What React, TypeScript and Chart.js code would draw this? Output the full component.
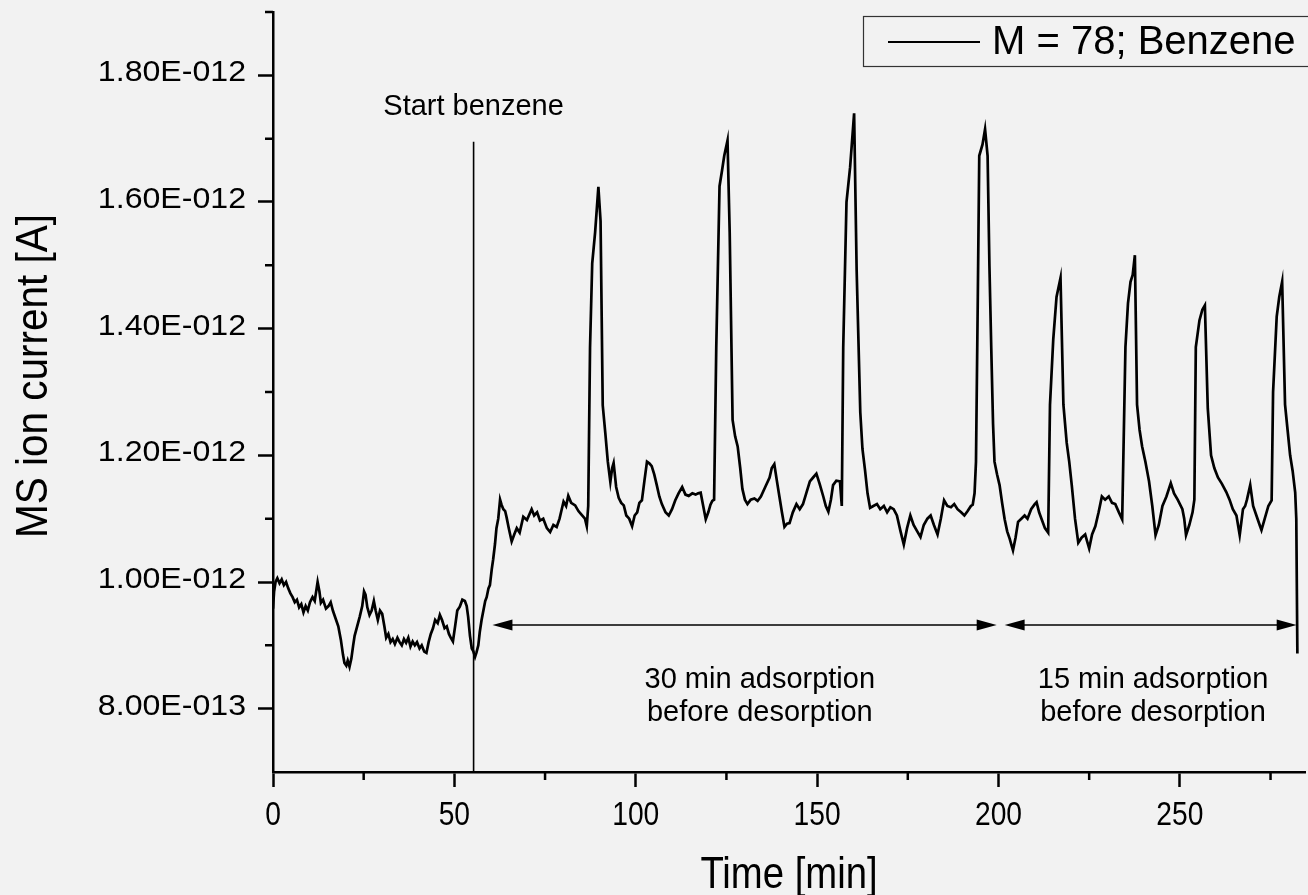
import React, { useEffect, useRef } from "react";
import { Chart, registerables } from "chart.js";

Chart.register(...registerables);

// ---- data (time in minutes, MS ion current in pA = 1E-012 A) ----
const timeMin = [
  0, 0.3, 0.7, 1.2, 1.8, 2.4, 3.0, 3.6, 4.2, 4.8,
  5.4, 6.0, 6.6, 7.2, 7.8, 8.4, 9.0, 9.6, 10.2, 10.9,
  11.5, 12.3, 12.8, 13.2, 13.8, 14.6, 15.3, 15.9, 16.5, 17.4,
  18.0, 18.7, 19.3, 19.7, 20.2, 20.6, 21.1, 21.6, 22.1, 22.5,
  23.2, 23.9, 24.6, 25.1, 25.5, 26.0, 26.6, 27.2, 27.8, 28.3,
  28.9, 29.5, 30.1, 30.7, 31.2, 31.8, 32.4, 33.0, 33.6, 34.3,
  34.9, 35.5, 36.1, 36.7, 37.3, 37.9, 38.5, 39.1, 39.7, 40.4,
  41.0, 41.7, 42.3, 42.9, 43.5, 44.1, 44.7, 45.4, 46.0, 46.6,
  47.3, 47.9, 48.5, 49.0, 49.6, 50.2, 50.8, 51.5, 52.2, 52.9,
  53.4, 53.8, 54.3, 54.8, 55.2, 55.7, 56.1, 56.6, 57.0, 57.5,
  58.0, 58.5, 58.9, 59.4, 59.8, 60.3, 60.7, 61.2, 61.6, 62.1,
  62.6, 63.0, 63.5, 64.0, 64.4, 65.0, 65.8, 66.5, 67.2, 68.0,
  69.0, 70.0, 71.3, 72.0, 72.8, 73.6, 74.5, 75.5, 76.4, 77.3,
  78.2, 79.0, 80.1, 80.8, 81.4, 82.2, 83.3, 84.2, 85.1, 86.0,
  86.5, 86.9, 87.4, 88.0, 88.8, 89.7, 90.3, 90.9, 91.6, 92.3,
  93.0, 93.5, 93.9, 94.6, 95.3, 96.0, 96.7, 97.4, 98.2, 99.0,
  99.7, 100.4, 101.0, 101.7, 102.4, 103.1, 103.8, 104.4, 105.1, 105.8,
  106.5, 107.2, 108.2, 109.1, 110.0, 110.9, 111.8, 112.8, 113.7, 114.6,
  115.6, 116.5, 117.2, 117.9, 118.6, 119.3, 120.0, 120.6, 121.1, 121.6,
  122.2, 123.1, 123.8, 124.4, 125.3, 125.9, 126.7, 127.4, 128.1, 128.8,
  129.4, 130.1, 130.8, 131.7, 132.7, 133.6, 134.5, 135.7, 136.9, 137.5,
  138.2, 138.9, 139.6, 140.3, 141.0, 141.7, 142.4, 143.3, 144.3, 145.2,
  146.1, 147.0, 148.0, 148.9, 149.8, 150.7, 151.7, 152.4, 153.1, 153.8,
  154.4, 155.3, 156.3, 156.8, 157.2, 158.1, 159.1, 160.2, 160.9, 161.9,
  162.5, 163.2, 163.9, 164.6, 165.5, 166.5, 167.4, 168.4, 169.3, 170.2,
  171.1, 172.0, 173.0, 173.9, 174.8, 175.7, 176.6, 177.6, 178.5, 179.4,
  180.4, 181.3, 182.2, 183.2, 184.1, 185.0, 185.9, 186.9, 187.8, 188.7,
  189.7, 190.6, 191.5, 192.4, 192.9, 193.4, 193.8, 194.3, 194.7, 195.6,
  196.3, 197.0, 197.5, 198.0, 198.5, 198.9, 199.6, 200.3, 201.0, 201.7,
  202.4, 203.1, 203.6, 204.0, 204.7, 205.4, 206.3, 207.2, 208.0, 209.0,
  210.0, 210.5, 211.2, 211.9, 212.8, 213.7, 214.2, 215.1, 216.0, 217.1,
  217.9, 218.8, 219.5, 220.2, 221.1, 222.0, 222.9, 223.9, 224.4, 225.0,
  225.8, 226.7, 227.6, 228.5, 229.4, 230.4, 231.3, 232.2, 233.2, 234.1,
  235.0, 235.7, 236.4, 237.0, 237.6, 238.2, 238.9, 239.6, 240.5, 241.5,
  242.4, 243.3, 244.2, 245.2, 246.3, 247.5, 248.4, 249.4, 250.7, 251.2,
  251.7, 252.6, 253.5, 254.0, 254.4, 255.4, 256.2, 256.9, 257.7, 258.6,
  259.5, 260.5, 261.6, 262.8, 263.7, 264.6, 265.6, 266.5, 267.4, 268.0,
  268.5, 269.4, 270.2, 271.1, 272.0, 272.5, 273.4, 274.4, 275.3, 275.7,
  276.7, 277.4, 278.2, 279.0, 279.7, 280.4, 281.1, 281.8, 282.1, 282.4,
];

const ionCurrentPA = [
  0.958, 0.985, 1.0, 1.006, 0.998, 1.004, 0.995, 1.0, 0.99, 0.982,
  0.976, 0.968, 0.972, 0.96, 0.965, 0.952, 0.962, 0.955, 0.968, 0.976,
  0.97, 1.0, 0.985, 0.967, 0.972, 0.958, 0.962, 0.968, 0.955, 0.94,
  0.93, 0.909, 0.885, 0.872, 0.868, 0.876, 0.866, 0.879, 0.9, 0.915,
  0.93, 0.945, 0.962, 0.985, 0.98, 0.96, 0.948, 0.955, 0.97, 0.955,
  0.94, 0.955, 0.95, 0.93, 0.912, 0.918, 0.905, 0.91, 0.902, 0.912,
  0.905, 0.9, 0.91, 0.904, 0.912, 0.898, 0.906, 0.9, 0.905, 0.895,
  0.9, 0.89, 0.888, 0.905, 0.918, 0.927, 0.94, 0.935, 0.948, 0.94,
  0.927, 0.93, 0.918, 0.912, 0.906, 0.93, 0.955, 0.961, 0.972, 0.97,
  0.962, 0.945, 0.915, 0.895, 0.891, 0.882, 0.889, 0.9, 0.921, 0.94,
  0.955, 0.97, 0.976, 0.99, 0.995, 1.02, 1.036, 1.06, 1.085, 1.1,
  1.13, 1.122, 1.115, 1.112, 1.102, 1.085, 1.064, 1.075, 1.085, 1.078,
  1.103, 1.098, 1.115, 1.105, 1.11, 1.097, 1.1, 1.085, 1.079, 1.09,
  1.087, 1.1, 1.127, 1.12, 1.136, 1.125, 1.121, 1.112, 1.106, 1.1,
  1.088, 1.12, 1.37, 1.503, 1.552, 1.624, 1.57, 1.279, 1.236, 1.19,
  1.158, 1.18, 1.188, 1.15, 1.133, 1.125, 1.121, 1.105, 1.1, 1.088,
  1.105, 1.11, 1.125, 1.129, 1.16, 1.19, 1.187, 1.183, 1.17, 1.153,
  1.135, 1.123, 1.11, 1.105, 1.115, 1.129, 1.14, 1.15, 1.138, 1.136,
  1.14, 1.138, 1.14, 1.141, 1.12, 1.099, 1.11, 1.122, 1.128, 1.13,
  1.371, 1.625, 1.65, 1.673, 1.697, 1.552, 1.256, 1.23, 1.214, 1.18,
  1.147, 1.13, 1.123, 1.13, 1.132, 1.128, 1.135, 1.15, 1.165, 1.18,
  1.186, 1.16, 1.135, 1.11, 1.087, 1.092, 1.093, 1.11, 1.123, 1.115,
  1.123, 1.14, 1.159, 1.165, 1.171, 1.155, 1.135, 1.12, 1.111, 1.13,
  1.153, 1.16, 1.159, 1.12, 1.371, 1.6, 1.655, 1.74, 1.492, 1.268,
  1.21, 1.177, 1.14, 1.117, 1.12, 1.123, 1.115, 1.12, 1.11, 1.118,
  1.115, 1.105, 1.08, 1.059, 1.085, 1.105, 1.09, 1.08, 1.071, 1.09,
  1.1, 1.105, 1.09, 1.075, 1.1, 1.129, 1.12, 1.118, 1.123, 1.115,
  1.11, 1.105, 1.112, 1.12, 1.122, 1.14, 1.19, 1.45, 1.673, 1.691,
  1.715, 1.673, 1.5, 1.371, 1.25, 1.19, 1.17, 1.153, 1.125, 1.099,
  1.08, 1.068, 1.058, 1.05, 1.07, 1.095, 1.1, 1.105, 1.1, 1.115,
  1.123, 1.126, 1.11, 1.099, 1.085, 1.078, 1.28, 1.383, 1.45, 1.48,
  1.28, 1.22, 1.19, 1.153, 1.1, 1.062, 1.07, 1.075, 1.065, 1.053,
  1.075, 1.088, 1.11, 1.135, 1.13, 1.135, 1.125, 1.123, 1.11, 1.099,
  1.371, 1.44, 1.474, 1.485, 1.516, 1.28, 1.24, 1.214, 1.19, 1.159,
  1.12, 1.074, 1.09, 1.12, 1.135, 1.156, 1.14, 1.13, 1.115, 1.1,
  1.074, 1.09, 1.11, 1.13, 1.371, 1.413, 1.43, 1.437, 1.274, 1.2,
  1.18, 1.165, 1.155, 1.142, 1.13, 1.115, 1.105, 1.074, 1.115, 1.12,
  1.13, 1.153, 1.12, 1.105, 1.09, 1.082, 1.1, 1.12, 1.129, 1.3,
  1.419, 1.45, 1.474, 1.28, 1.24, 1.2, 1.175, 1.141, 1.1, 0.887,
];

const seriesLabel = "M = 78; Benzene";

const xTickValues = [0, 50, 100, 150, 200, 250];
const xTickLabels = ["0", "50", "100", "150", "200", "250"];
const xMinorTickValues = [25, 75, 125, 175, 225, 275];
const yTickValues = [0.8, 1.0, 1.2, 1.4, 1.6, 1.8];
const yTickLabels = ["8.00E-013", "1.00E-012", "1.20E-012", "1.40E-012", "1.60E-012", "1.80E-012"];
const yMinorTickValues = [0.9, 1.1, 1.3, 1.5, 1.7, 1.9];

const xTitle = "Time [min]";
const yTitle = "MS ion current [A]";

// annotations (in data units)
const startBenzeneTime = 55.3;
const startBenzeneLineTop = 1.695;
const startBenzeneLabelY = 1.75;
const arrowLevel = 0.932;
const arrowSpans = [
  [60.5, 199.5],
  [201.7, 282.2],
];
const spanLabelX = [134.2, 242.6];
const spanLabelLines = [
  ["30 min adsorption", "before desorption"],
  ["15 min adsorption", "before desorption"],
];
const spanLabelLineY = [0.846, 0.793];

const X_MIN = 0;
const X_MAX = 284.5;
const Y_MIN = 0.7;
const Y_MAX = 1.9;

const BG = "#f2f2f2";
const ARIAL = '"Liberation Sans", Arial, sans-serif';

function drawScaledText(
  ctx: CanvasRenderingContext2D,
  text: string,
  x: number,
  y: number,
  size: number,
  scaleX: number,
  align: CanvasTextAlign,
  rotate = 0
) {
  ctx.save();
  ctx.translate(x, y);
  if (rotate) ctx.rotate(rotate);
  ctx.scale(scaleX, 1);
  ctx.font = `${size}px ${ARIAL}`;
  ctx.textAlign = align;
  ctx.textBaseline = "alphabetic";
  ctx.fillText(text, 0, 0);
  ctx.restore();
}

const decorPlugin = {
  id: "decor",
  beforeDraw(chart: any) {
    const { ctx, width, height } = chart;
    ctx.save();
    ctx.fillStyle = BG;
    ctx.fillRect(0, 0, width, height);
    ctx.restore();
  },
  afterDraw(chart: any) {
    const { ctx, chartArea } = chart;
    const x = chart.scales.x;
    const y = chart.scales.y;
    ctx.save();
    ctx.strokeStyle = "#000";
    ctx.fillStyle = "#000";

    // minor ticks
    ctx.lineWidth = 2.5;
    ctx.beginPath();
    xMinorTickValues.forEach((v) => {
      const px = x.getPixelForValue(v);
      ctx.moveTo(px, chartArea.bottom);
      ctx.lineTo(px, chartArea.bottom + 8);
    });
    yMinorTickValues.forEach((v) => {
      const py = y.getPixelForValue(v);
      ctx.moveTo(chartArea.left, py);
      ctx.lineTo(chartArea.left - 8, py);
    });
    ctx.stroke();

    // tick labels
    xTickValues.forEach((v, i) => {
      drawScaledText(ctx, xTickLabels[i], x.getPixelForValue(v), chartArea.bottom + 53, 34, 0.83, "center");
    });
    yTickValues.forEach((v, i) => {
      drawScaledText(ctx, yTickLabels[i], 246, y.getPixelForValue(v) + 6, 30, 1.07, "right");
    });

    // axis titles
    drawScaledText(ctx, xTitle, (chartArea.left + chartArea.right) / 2, 888, 44, 0.87, "center");
    drawScaledText(ctx, yTitle, 46.5, 376, 44, 0.92, "center", -Math.PI / 2);

    // start benzene line
    ctx.lineWidth = 1.6;
    const sx = x.getPixelForValue(startBenzeneTime);
    ctx.beginPath();
    ctx.moveTo(sx, y.getPixelForValue(startBenzeneLineTop));
    ctx.lineTo(sx, y.getPixelForValue(Y_MIN));
    ctx.stroke();

    ctx.font = `29px ${ARIAL}`;
    ctx.textAlign = "center";
    ctx.textBaseline = "middle";
    ctx.fillText("Start benzene", sx, y.getPixelForValue(startBenzeneLabelY));

    // double arrows
    const ay = y.getPixelForValue(arrowLevel);
    const headLen = 20;
    const headHalf = 5.5;
    arrowSpans.forEach(([a, b]) => {
      const x1 = x.getPixelForValue(a);
      const x2 = x.getPixelForValue(b);
      ctx.lineWidth = 1.6;
      ctx.beginPath();
      ctx.moveTo(x1 + headLen - 2, ay);
      ctx.lineTo(x2 - headLen + 2, ay);
      ctx.stroke();
      ctx.beginPath();
      ctx.moveTo(x1, ay);
      ctx.lineTo(x1 + headLen, ay - headHalf);
      ctx.lineTo(x1 + headLen, ay + headHalf);
      ctx.closePath();
      ctx.fill();
      ctx.beginPath();
      ctx.moveTo(x2, ay);
      ctx.lineTo(x2 - headLen, ay - headHalf);
      ctx.lineTo(x2 - headLen, ay + headHalf);
      ctx.closePath();
      ctx.fill();
    });

    // span labels
    ctx.font = `29px ${ARIAL}`;
    spanLabelLines.forEach((lines, i) => {
      const cx = x.getPixelForValue(spanLabelX[i]);
      lines.forEach((t, j) => {
        ctx.fillText(t, cx, y.getPixelForValue(spanLabelLineY[j]));
      });
    });

    // legend box
    const label = chart.data.datasets[0].label;
    ctx.lineWidth = 1.2;
    ctx.strokeStyle = "#333";
    ctx.fillStyle = BG;
    ctx.fillRect(863.5, 16.5, 470, 50);
    ctx.strokeRect(863.5, 16.5, 470, 50);
    ctx.strokeStyle = "#000";
    ctx.lineWidth = 2;
    ctx.beginPath();
    ctx.moveTo(888, 42);
    ctx.lineTo(980, 42);
    ctx.stroke();
    ctx.fillStyle = "#000";
    ctx.font = `40px ${ARIAL}`;
    ctx.textAlign = "left";
    ctx.textBaseline = "middle";
    ctx.fillText(label, 992, 43);

    ctx.restore();
  },
};

export default function App() {
  const canvasRef = useRef<HTMLCanvasElement | null>(null);

  useEffect(() => {
    document.body.style.margin = "0";
    document.body.style.background = BG;
    const canvas = canvasRef.current;
    if (!canvas) return;
    const points = timeMin.map((t, i) => ({ x: t, y: ionCurrentPA[i] }));
    const chart = new Chart(canvas, {
      type: "line",
      data: {
        datasets: [
          {
            label: seriesLabel,
            data: points,
            borderColor: "#000",
            borderWidth: 2.7,
            pointRadius: 0,
            tension: 0,
            fill: false,
          },
        ],
      },
      options: {
        animation: false,
        responsive: false,
        devicePixelRatio: 1,
        layout: { padding: { top: 12, right: 3, left: 0, bottom: 0 } },
        plugins: {
          legend: { display: false },
          tooltip: { enabled: false },
        },
        scales: {
          x: {
            type: "linear",
            min: X_MIN,
            max: X_MAX,
            afterBuildTicks: (scale: any) => {
              scale.ticks = xTickValues.map((v) => ({ value: v }));
            },
            afterFit: (scale: any) => {
              scale.height = 123;
              scale.paddingLeft = 0;
              scale.paddingRight = 0;
            },
            ticks: {
              autoSkip: false,
              maxRotation: 0,
              color: "rgba(0,0,0,0)",
              font: { family: ARIAL, size: 12 },
              callback: (v: any) => String(v),
            },
            grid: {
              display: true,
              drawOnChartArea: false,
              drawTicks: true,
              tickLength: 15,
              tickWidth: 2.5,
              tickColor: "#000",
              color: "#000",
            },
            border: { display: true, color: "#000", width: 2.5 },
          },
          y: {
            type: "linear",
            min: Y_MIN,
            max: Y_MAX,
            afterBuildTicks: (scale: any) => {
              scale.ticks = yTickValues.map((v) => ({ value: v }));
            },
            afterFit: (scale: any) => {
              scale.width = 273;
              scale.paddingTop = 0;
              scale.paddingBottom = 0;
            },
            ticks: {
              autoSkip: false,
              color: "rgba(0,0,0,0)",
              font: { family: ARIAL, size: 12 },
              callback: (v: any) => {
                const i = yTickValues.findIndex((t) => Math.abs(t - Number(v)) < 1e-9);
                return i >= 0 ? yTickLabels[i] : "";
              },
            },
            grid: {
              display: true,
              drawOnChartArea: false,
              drawTicks: true,
              tickLength: 15,
              tickWidth: 2.5,
              tickColor: "#000",
              color: "#000",
            },
            border: { display: true, color: "#000", width: 2.5 },
          },
        },
      },
      plugins: [decorPlugin],
    } as any);
    return () => chart.destroy();
  }, []);

  return (
    <div style={{ position: "fixed", left: 0, top: 0, width: 1308, height: 895, background: BG }}>
      <canvas ref={canvasRef} width={1308} height={895} style={{ display: "block" }} />
    </div>
  );
}
